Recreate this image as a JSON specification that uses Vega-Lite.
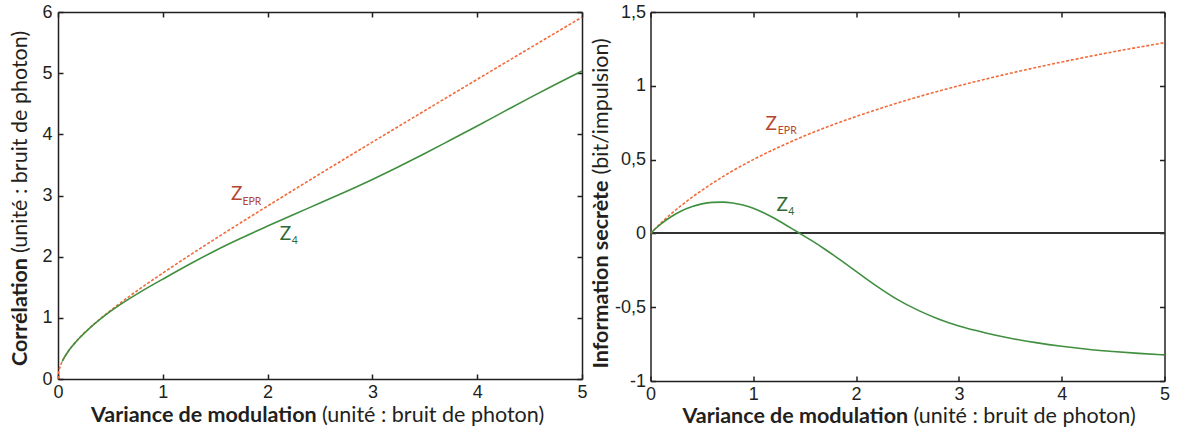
{
  "$schema": "https://vega.github.io/schema/vega-lite/v6.json",
  "padding": {"left": 9, "top": 3, "right": 0, "bottom": 0},
  "background": "white",
  "config": {
    "view": {"stroke": null},
    "font": "Liberation Sans",
    "axis": {
      "domainColor": "#231f20", "domainWidth": 1.5,
      "tickColor": "#231f20", "tickWidth": 1.5, "tickSize": -5,
      "labelFont": "Liberation Sans", "labelFontSize": 18, "labelColor": "#231f20",
      "labelFlush": false, "labelOverlap": false, "grid": false,
      "titleFont": "Lato", "titleFontSize": 21.5, "titleColor": "#231f20"
    }
  },
  "datasets": {
    "leftRed": [
      {"x":0,"y":0},{"x":0.005,"y":0.100},{"x":0.01,"y":0.142},{"x":0.02,"y":0.201},{"x":0.035,"y":0.267},
      {"x":0.05,"y":0.320},{"x":0.075,"y":0.395},{"x":0.1,"y":0.458},{"x":0.15,"y":0.567},{"x":0.2,"y":0.663},
      {"x":0.3,"y":0.831},{"x":0.4,"y":0.980},{"x":0.5,"y":1.118},{"x":0.6,"y":1.249},{"x":0.75,"y":1.436},
      {"x":1,"y":1.732},{"x":1.25,"y":2.016},{"x":1.5,"y":2.291},{"x":1.75,"y":2.562},{"x":2,"y":2.828},
      {"x":2.5,"y":3.354},{"x":3,"y":3.873},{"x":3.5,"y":4.387},{"x":4,"y":4.899},{"x":4.5,"y":5.408},{"x":5,"y":5.916}
    ],
    "leftGreen": [
      {"x":0.04,"y":0.286},{"x":0.05,"y":0.320},{"x":0.1,"y":0.458},{"x":0.15,"y":0.566},{"x":0.2,"y":0.662},
      {"x":0.3,"y":0.829},{"x":0.4,"y":0.975},{"x":0.5,"y":1.105},{"x":0.6,"y":1.224},{"x":0.8,"y":1.437},
      {"x":1.0,"y":1.632},{"x":1.25,"y":1.871},{"x":1.5,"y":2.098},{"x":1.75,"y":2.305},{"x":2.0,"y":2.50},
      {"x":2.25,"y":2.69},{"x":2.5,"y":2.877},{"x":2.75,"y":3.066},{"x":3.0,"y":3.263},{"x":3.25,"y":3.471},
      {"x":3.5,"y":3.687},{"x":3.75,"y":3.911},{"x":4.0,"y":4.137},{"x":4.25,"y":4.367},{"x":4.5,"y":4.596},
      {"x":4.75,"y":4.820},{"x":5.0,"y":5.036}
    ],
    "rightRed": [
      {"x":0,"y":0},{"x":0.05,"y":0.035},{"x":0.1,"y":0.069},{"x":0.2,"y":0.132},{"x":0.3,"y":0.189},
      {"x":0.4,"y":0.243},{"x":0.5,"y":0.292},{"x":0.75,"y":0.404},{"x":1,"y":0.5},{"x":1.25,"y":0.585},
      {"x":1.5,"y":0.661},{"x":1.75,"y":0.730},{"x":2,"y":0.792},{"x":2.5,"y":0.904},{"x":3,"y":1.0},
      {"x":3.5,"y":1.085},{"x":4,"y":1.161},{"x":4.5,"y":1.230},{"x":5,"y":1.292}
    ],
    "rightGreen": [
      {"x":0,"y":0},{"x":0.05,"y":0.033},{"x":0.1,"y":0.063},{"x":0.2,"y":0.113},{"x":0.3,"y":0.152},
      {"x":0.4,"y":0.180},{"x":0.5,"y":0.200},{"x":0.6,"y":0.210},{"x":0.7,"y":0.212},{"x":0.8,"y":0.206},
      {"x":0.9,"y":0.192},{"x":1.0,"y":0.170},{"x":1.1,"y":0.140},{"x":1.2,"y":0.104},{"x":1.3,"y":0.064},
      {"x":1.4,"y":0.022},{"x":1.5,"y":-0.020},{"x":1.6,"y":-0.063},{"x":1.7,"y":-0.109},{"x":1.8,"y":-0.157},
      {"x":1.9,"y":-0.207},{"x":2.0,"y":-0.257},{"x":2.2,"y":-0.357},{"x":2.4,"y":-0.447},{"x":2.6,"y":-0.520},
      {"x":2.8,"y":-0.580},{"x":3.0,"y":-0.628},{"x":3.25,"y":-0.673},{"x":3.5,"y":-0.710},{"x":3.75,"y":-0.740},
      {"x":4.0,"y":-0.765},{"x":4.25,"y":-0.785},{"x":4.5,"y":-0.800},{"x":4.75,"y":-0.813},{"x":5.0,"y":-0.823}
    ],
    "leftZ": [{"x":1.65,"y":2.93,"t":"Z","s":"EPR"},{"x":2.115,"y":2.28,"t":"Z","s":"4"}],
    "leftSub": [{"x":1.76,"y":2.85,"t":"EPR","s":"EPR"},{"x":2.23,"y":2.20,"t":"4","s":"4"}],
    "rightZ": [{"x":1.119,"y":0.703,"t":"Z","s":"EPR"},{"x":1.226,"y":0.155,"t":"Z","s":"4"}],
    "rightSub": [{"x":1.238,"y":0.676,"t":"EPR","s":"EPR"},{"x":1.339,"y":0.126,"t":"4","s":"4"}]
  },
  "bounds": "flush",
  "spacing": 68.5,
  "hconcat": [
    {
      "width": 524, "height": 367,
      "resolve": {"axis": {"x": "independent", "y": "independent"}},
      "layer": [
        {
          "data": {"name": "leftRed"},
          "mark": {"type": "line", "color": "#f26a3a", "strokeWidth": 1.6, "strokeDash": [3, 1.8], "interpolate": "monotone"},
          "encoding": {
            "x": {"field": "x", "type": "quantitative", "scale": {"domain": [0, 5], "nice": false},
              "axis": {"orient": "bottom", "values": [0,1,2,3,4,5], "labelPadding": 9,
                "title": "Variance de modulation", "titleFontWeight": "bold", "titleAlign": "left", "titleAngle": 0,
                "titleX": 32.5, "titleY": 42, "titleBaseline": "alphabetic"}},
            "y": {"field": "y", "type": "quantitative", "scale": {"domain": [0, 6], "nice": false},
              "axis": {"orient": "left", "values": [0,1,2,3,4,5,6], "labelPadding": 11,
                "title": "Corrélation", "titleFontWeight": "bold", "titleAlign": "left", "titleAngle": -90,
                "titleX": -31.5, "titleY": 353.5, "titleBaseline": "alphabetic"}}
          }
        },
        {
          "data": {"name": "leftGreen"},
          "mark": {"type": "line", "color": "#3f8f3f", "strokeWidth": 1.6, "interpolate": "monotone"},
          "encoding": {
            "x": {"field": "x", "type": "quantitative", "scale": {"domain": [0, 5], "nice": false},
              "axis": {"orient": "bottom", "domain": false, "ticks": false, "labels": false,
                "title": "(unité : bruit de photon)", "titleFontWeight": "normal", "titleAlign": "left", "titleAngle": 0,
                "titleX": 263.5, "titleY": 42, "titleBaseline": "alphabetic"}},
            "y": {"field": "y", "type": "quantitative", "scale": {"domain": [0, 6], "nice": false},
              "axis": {"orient": "left", "domain": false, "ticks": false, "labels": false,
                "title": "(unité : bruit de photon)", "titleFontWeight": "normal", "titleAlign": "left", "titleAngle": -90,
                "titleX": -31.5, "titleY": 240.5, "titleBaseline": "alphabetic"}}
          }
        },
        {
          "data": {"name": "leftZ"},
          "mark": {"type": "text", "font": "Lato", "fontSize": 19, "align": "left", "baseline": "alphabetic"},
          "encoding": {
            "x": {"field": "x", "type": "quantitative", "scale": {"domain": [0, 5], "nice": false},
              "axis": {"orient": "top", "values": [0,1,2,3,4,5], "labels": false, "title": null}},
            "y": {"field": "y", "type": "quantitative", "scale": {"domain": [0, 6], "nice": false},
              "axis": {"orient": "right", "values": [0,1,2,3,4,5,6], "labels": false, "title": null}},
            "text": {"field": "t"},
            "color": {"field": "s", "type": "nominal", "scale": {"domain": ["EPR", "4"], "range": ["#b5462d", "#2f6b35"]}, "legend": null}
          }
        },
        {
          "data": {"name": "leftSub"},
          "mark": {"type": "text", "font": "Lato", "fontSize": 10.5, "align": "left", "baseline": "alphabetic"},
          "encoding": {
            "x": {"field": "x", "type": "quantitative", "scale": {"domain": [0, 5], "nice": false}, "axis": null},
            "y": {"field": "y", "type": "quantitative", "scale": {"domain": [0, 6], "nice": false}, "axis": null},
            "text": {"field": "t"},
            "color": {"field": "s", "type": "nominal", "scale": {"domain": ["EPR", "4"], "range": ["#b5462d", "#2f6b35"]}, "legend": null}
          }
        }
      ]
    },
    {
      "width": 514, "height": 369,
      "resolve": {"axis": {"x": "independent", "y": "independent"}},
      "layer": [
        {
          "data": {"name": "rightRed"},
          "mark": {"type": "rule", "color": "#333333", "strokeWidth": 1.2},
          "encoding": {
            "y": {"datum": 0, "type": "quantitative", "scale": {"domain": [-1, 1.5], "nice": false}, "axis": null}
          }
        },
        {
          "data": {"name": "rightRed"},
          "mark": {"type": "line", "color": "#f26a3a", "strokeWidth": 1.6, "strokeDash": [3, 1.8], "interpolate": "monotone"},
          "encoding": {
            "x": {"field": "x", "type": "quantitative", "scale": {"domain": [0, 5], "nice": false},
              "axis": {"orient": "bottom", "values": [0,1,2,3,4,5], "labelPadding": 9,
                "title": "Variance de modulation", "titleFontWeight": "bold", "titleAlign": "left", "titleAngle": 0,
                "titleX": 31.5, "titleY": 41, "titleBaseline": "alphabetic"}},
            "y": {"field": "y", "type": "quantitative", "scale": {"domain": [-1, 1.5], "nice": false},
              "axis": {"orient": "left", "values": [-1,-0.5,0,0.5,1,1.5], "labelPadding": 10,
                "labelExpr": "replace(toString(datum.value), '.', ',')",
                "title": "Information secrète", "titleFontWeight": "bold", "titleAlign": "left", "titleAngle": -90,
                "titleX": -43, "titleY": 356, "titleBaseline": "alphabetic"}}
          }
        },
        {
          "data": {"name": "rightGreen"},
          "mark": {"type": "line", "color": "#3f8f3f", "strokeWidth": 1.6, "interpolate": "monotone"},
          "encoding": {
            "x": {"field": "x", "type": "quantitative", "scale": {"domain": [0, 5], "nice": false},
              "axis": {"orient": "bottom", "domain": false, "ticks": false, "labels": false,
                "title": "(unité : bruit de photon)", "titleFontWeight": "normal", "titleAlign": "left", "titleAngle": 0,
                "titleX": 262.5, "titleY": 41, "titleBaseline": "alphabetic"}},
            "y": {"field": "y", "type": "quantitative", "scale": {"domain": [-1, 1.5], "nice": false},
              "axis": {"orient": "left", "domain": false, "ticks": false, "labels": false,
                "title": "(bit/impulsion)", "titleFontWeight": "normal", "titleAlign": "left", "titleAngle": -90,
                "titleX": -43, "titleY": 162, "titleBaseline": "alphabetic"}}
          }
        },
        {
          "data": {"name": "rightZ"},
          "mark": {"type": "text", "font": "Lato", "fontSize": 19, "align": "left", "baseline": "alphabetic"},
          "encoding": {
            "x": {"field": "x", "type": "quantitative", "scale": {"domain": [0, 5], "nice": false},
              "axis": {"orient": "top", "values": [0,1,2,3,4,5], "labels": false, "title": null}},
            "y": {"field": "y", "type": "quantitative", "scale": {"domain": [-1, 1.5], "nice": false},
              "axis": {"orient": "right", "values": [-1,-0.5,0,0.5,1,1.5], "labels": false, "title": null}},
            "text": {"field": "t"},
            "color": {"field": "s", "type": "nominal", "scale": {"domain": ["EPR", "4"], "range": ["#b5462d", "#2f6b35"]}, "legend": null}
          }
        },
        {
          "data": {"name": "rightSub"},
          "mark": {"type": "text", "font": "Lato", "fontSize": 10.5, "align": "left", "baseline": "alphabetic"},
          "encoding": {
            "x": {"field": "x", "type": "quantitative", "scale": {"domain": [0, 5], "nice": false}, "axis": null},
            "y": {"field": "y", "type": "quantitative", "scale": {"domain": [-1, 1.5], "nice": false}, "axis": null},
            "text": {"field": "t"},
            "color": {"field": "s", "type": "nominal", "scale": {"domain": ["EPR", "4"], "range": ["#b5462d", "#2f6b35"]}, "legend": null}
          }
        }
      ]
    }
  ]
}
